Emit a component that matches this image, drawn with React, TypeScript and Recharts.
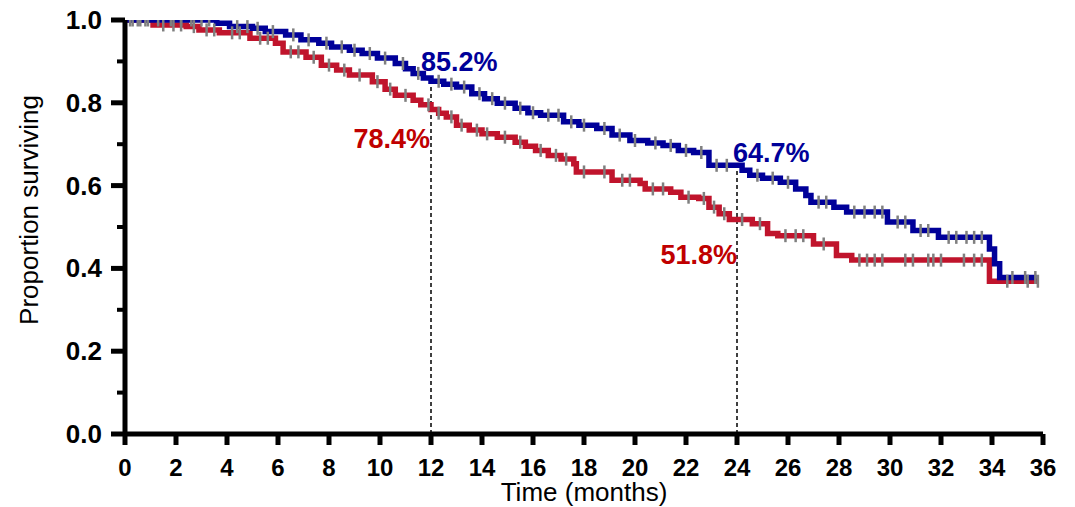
import React from 'react';
import { ComposedChart, Line, Scatter, XAxis, YAxis, ReferenceLine, ReferenceDot } from 'recharts';

const FONT = '"Liberation Sans", Arial, Helvetica, sans-serif';
const BLUE = '#000099';
const RED = '#C0142C';
const BLUE_TEXT = '#000099';
const RED_TEXT = '#C00000';
const GREY = '#7f7f7f';

// Group A (blue) Kaplan-Meier steps
const blueTimes = [0, 3.6, 4.1, 5.0, 5.5, 6.3, 6.9, 7.6, 8.1, 8.8, 9.3, 9.9, 10.6, 11.0, 11.3, 11.7, 12.0, 12.5, 13.0, 13.6, 14.1, 14.6, 15.3, 15.8, 16.3, 17.2, 17.8, 18.5, 19.1, 19.8, 20.5, 21.1, 21.7, 22.3, 22.9, 24.2, 24.5, 25.0, 25.7, 26.3, 26.7, 26.9, 27.8, 28.3, 29.9, 30.9, 31.9, 33.9, 34.1, 34.3, 35.75];
const blueSurv = [1.0, 0.992, 0.984, 0.98, 0.972, 0.964, 0.952, 0.944, 0.935, 0.927, 0.919, 0.908, 0.895, 0.882, 0.871, 0.86, 0.852, 0.845, 0.838, 0.822, 0.81, 0.799, 0.787, 0.776, 0.77, 0.754, 0.746, 0.738, 0.722, 0.709, 0.703, 0.697, 0.685, 0.68, 0.649, 0.637, 0.625, 0.618, 0.608, 0.592, 0.576, 0.56, 0.548, 0.536, 0.512, 0.4915, 0.475, 0.447, 0.411, 0.378, 0.378];

// Group B (red) Kaplan-Meier steps
const redTimes = [0, 1.1, 2.4, 2.9, 3.7, 4.9, 5.9, 6.2, 7.1, 7.7, 8.3, 8.8, 9.7, 10.2, 10.6, 11.3, 11.6, 12.0, 12.3, 12.6, 13.0, 13.5, 14.0, 14.6, 15.3, 15.7, 16.1, 16.6, 17.1, 17.6, 17.7, 19.1, 20.2, 20.4, 21.4, 21.8, 22.5, 22.9, 23.3, 23.7, 24.6, 25.2, 25.6, 27.0, 27.9, 28.5, 33.9, 35.8];
const redSurv = [1.0, 0.988, 0.984, 0.976, 0.969, 0.956, 0.944, 0.923, 0.91, 0.891, 0.879, 0.867, 0.851, 0.833, 0.818, 0.806, 0.795, 0.784, 0.775, 0.766, 0.746, 0.734, 0.725, 0.717, 0.705, 0.695, 0.685, 0.673, 0.664, 0.653, 0.633, 0.613, 0.605, 0.592, 0.584, 0.572, 0.569, 0.548, 0.532, 0.518, 0.508, 0.484, 0.479, 0.459, 0.431, 0.42, 0.369, 0.369];

// Censoring times
const blueCensor = [0.3, 0.6, 0.9, 1.3, 1.8, 2.2, 2.6, 3.0, 3.3, 4.4, 4.8, 5.2, 5.8, 6.6, 7.2, 7.9, 8.5, 9.0, 9.6, 10.2, 10.9, 11.5, 12.3, 12.8, 13.3, 13.9, 14.4, 14.9, 15.5, 16.0, 16.6, 17.0, 17.5, 18.0, 18.8, 19.4, 20.0, 20.8, 21.4, 22.0, 22.6, 23.2, 23.6, 24.8, 25.4, 26.0, 27.2, 27.5, 28.6, 29.0, 29.4, 29.7, 30.3, 30.6, 31.2, 31.5, 32.3, 32.6, 33.0, 33.3, 33.6, 34.8, 35.3, 35.7];
const redCensor = [0.2, 0.5, 0.8, 1.5, 1.9, 2.2, 2.7, 3.2, 3.5, 4.2, 4.5, 5.3, 5.6, 6.5, 6.8, 7.4, 8.0, 8.6, 9.2, 9.9, 10.4, 11.0, 11.9, 12.3, 12.8, 13.2, 13.8, 14.2, 14.9, 15.5, 16.3, 16.9, 17.3, 18.0, 18.8, 19.5, 19.8, 20.7, 21.1, 22.1, 22.7, 23.1, 23.5, 24.2, 24.9, 25.9, 26.3, 26.6, 27.4, 28.8, 29.1, 29.4, 29.7, 30.6, 30.9, 31.5, 31.7, 32.0, 32.9, 33.3, 33.6, 34.6, 35.4, 35.8];

const xTicks = [0, 2, 4, 6, 8, 10, 12, 14, 16, 18, 20, 22, 24, 26, 28, 30, 32, 34, 36];
const yTicks = [0, 0.1, 0.2, 0.3, 0.4, 0.5, 0.6, 0.7, 0.8, 0.9, 1.0];

const blueData = blueTimes.map((t, i) => ({ t, s: blueSurv[i] }));
const redData = redTimes.map((t, i) => ({ t, s: redSurv[i] }));

function stepAt(times: number[], surv: number[], t: number) {
  let v = surv[0];
  for (let i = 0; i < times.length; i++) {
    if (times[i] <= t) v = surv[i];
  }
  return v;
}
const blueCensorData = blueCensor.map((t) => ({ t, s: stepAt(blueTimes, blueSurv, t) }));
const redCensorData = redCensor.map((t) => ({ t, s: stepAt(redTimes, redSurv, t) }));

const CensorMark = (p: any) => {
  if (p.cx == null || p.cy == null) return <g />;
  return <line x1={p.cx} x2={p.cx} y1={p.cy - 6.5} y2={p.cy + 6.5} stroke={GREY} strokeWidth={2.5} />;
};

const YTick = (props: any) => {
  const { x, y, payload } = props;
  const v = payload.value;
  const major = Math.round(v * 10) % 2 === 0;
  return (
    <g>
      <line x1={x - (major ? 14 : 8)} x2={x} y1={y} y2={y} stroke="#000" strokeWidth={major ? 5 : 4} />
      {major && (
        <text x={x - 23} y={y + 9} textAnchor="end" fontFamily={FONT} fontWeight="bold" fontSize={26} fill="#000">
          {v.toFixed(1)}
        </text>
      )}
    </g>
  );
};

const XTick = (props: any) => {
  const { x, y, payload } = props;
  return (
    <g>
      <line x1={x} x2={x} y1={y} y2={y + 11} stroke="#000" strokeWidth={5} />
      <text x={x} y={y + 42} textAnchor="middle" fontFamily={FONT} fontWeight="bold" fontSize={24} fill="#000">
        {payload.value}
      </text>
    </g>
  );
};

const pctLabel = (text: string, color: string, dx: number, dy: number, anchor: string) => (p: any) => (
  <text x={p.cx + dx} y={p.cy + dy} textAnchor={anchor} fontFamily={FONT} fontWeight="bold" fontSize={27} fill={color}>
    {text}
  </text>
);

const XTitle = (p: any) => {
  const vb = p.viewBox || { x: 125, y: 434, width: 918, height: 73 };
  return (
    <text x={vb.x + vb.width / 2} y={501} textAnchor="middle" fontFamily={FONT} fontSize={26} fill="#000">
      Time (months)
    </text>
  );
};

const YTitle = (p: any) => {
  const vb = p.viewBox || { x: 0, y: 20, width: 125, height: 414 };
  const cy = vb.y + vb.height / 2 - 17;
  return (
    <text x={38} y={cy} transform={`rotate(-90, 38, ${cy})`} textAnchor="middle" fontFamily={FONT} fontSize={26} fill="#000">
      Proportion surviving
    </text>
  );
};

export default function App() {
  return (
    <div style={{ position: 'absolute', left: 0, top: 0, width: 1075, height: 507, background: '#fff' }}>
      <ComposedChart width={1075} height={507} margin={{ top: 20, right: 32, bottom: 0, left: 0 }}>
        <XAxis
          type="number"
          dataKey="t"
          domain={[0, 36]}
          ticks={xTicks}
          interval={0}
          allowDataOverflow
          tick={<XTick />}
          tickLine={false}
          tickSize={0}
          tickMargin={0}
          axisLine={{ stroke: '#000', strokeWidth: 5 }}
          height={73}
          label={XTitle}
        />
        <YAxis
          type="number"
          dataKey="s"
          domain={[0, 1]}
          ticks={yTicks}
          interval={0}
          allowDataOverflow
          tick={<YTick />}
          tickLine={false}
          tickSize={0}
          tickMargin={0}
          axisLine={{ stroke: '#000', strokeWidth: 5 }}
          width={125}
          label={YTitle}
        />
        <ReferenceLine segment={[{ x: 12, y: 0 }, { x: 12, y: 0.852 }]} stroke="#000" strokeWidth={1.5} strokeDasharray="4 3" />
        <ReferenceLine segment={[{ x: 24, y: 0 }, { x: 24, y: 0.647 }]} stroke="#000" strokeWidth={1.5} strokeDasharray="4 3" />
        <Scatter data={blueCensorData} dataKey="s" shape={CensorMark} isAnimationActive={false} />
        <Scatter data={redCensorData} dataKey="s" shape={CensorMark} isAnimationActive={false} />
        <Line data={redData} dataKey="s" type="stepAfter" stroke={RED} strokeWidth={5.5} dot={false} activeDot={false} isAnimationActive={false} strokeLinejoin="miter" />
        <Line data={blueData} dataKey="s" type="stepAfter" stroke={BLUE} strokeWidth={5.5} dot={false} activeDot={false} isAnimationActive={false} strokeLinejoin="miter" />
        <ReferenceDot x={12} y={0.852} r={0} shape={pctLabel('85.2%', BLUE_TEXT, -10, -10, 'start')} />
        <ReferenceDot x={12} y={0.784} r={0} shape={pctLabel('78.4%', RED_TEXT, -1, 39, 'end')} />
        <ReferenceDot x={24} y={0.647} r={0} shape={pctLabel('64.7%', BLUE_TEXT, -4, -4, 'start')} />
        <ReferenceDot x={24} y={0.518} r={0} shape={pctLabel('51.8%', RED_TEXT, 0, 44, 'end')} />
      </ComposedChart>
    </div>
  );
}
